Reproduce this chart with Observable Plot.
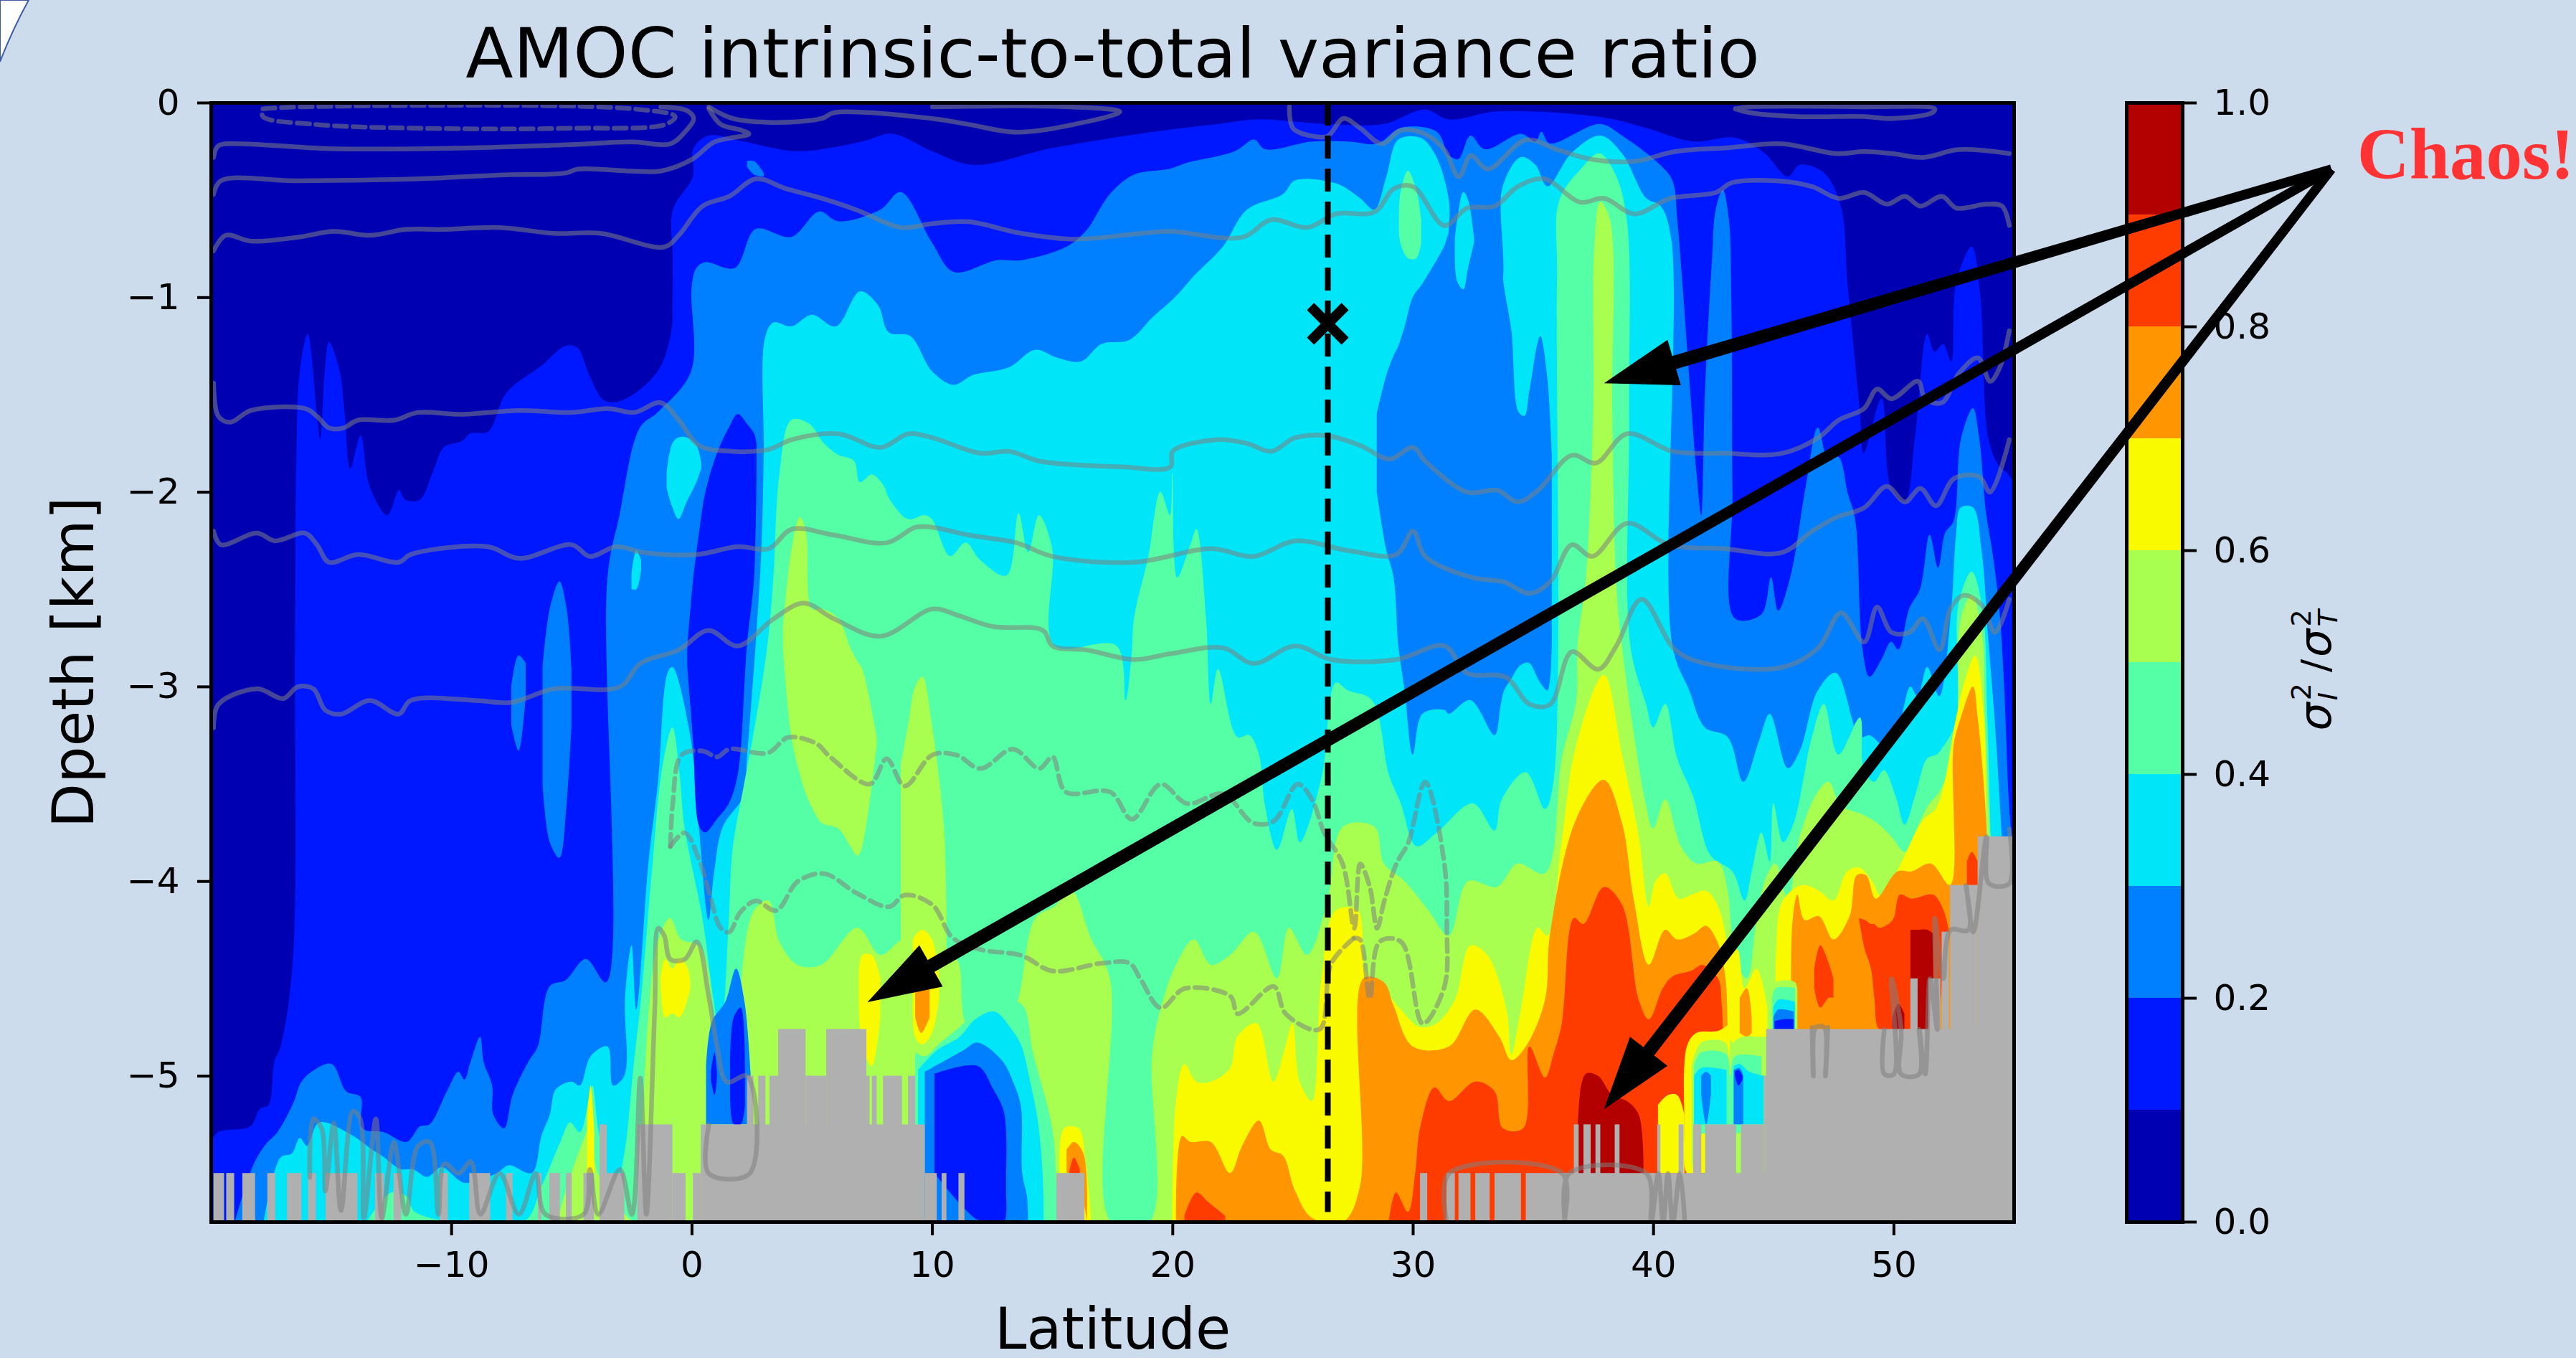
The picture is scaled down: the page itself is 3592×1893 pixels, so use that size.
<!DOCTYPE html>
<html><head><meta charset="utf-8">
<script src="https://cdn.jsdelivr.net/npm/d3@7"></script>
<script src="https://cdn.jsdelivr.net/npm/@observablehq/plot@0.6"></script>
<style>
html,body{margin:0;padding:0;background:#cddcec;width:3592px;height:1893px;overflow:hidden}
#page{position:relative;width:3592px;height:1893px;overflow:hidden}
#page>svg{position:absolute;left:0;top:0}
#cblabel{position:absolute;left:3228px;top:928px;transform:translate(-50%,-50%) rotate(-90deg);font-family:"DejaVu Sans";font-size:54px;white-space:nowrap;color:#000;display:flex;align-items:center;gap:3px}
#cblabel i{font-size:62px}
#cblabel .st{display:inline-flex;flex-direction:column;font-size:38px;line-height:37px;margin-right:12px}
#cblabel .st i{font-size:38px}
</style></head><body><div id="page"></div>
<script>
// ---- scale facts -------------------------------------------------------
const latDomain=[-20,55], depthDomain=[-5.75,0], floorDepth=-5.75;
const xTicks=[-10,0,10,20,30,40,50], yTicks=[-5,-4,-3,-2,-1,0], cbTicks=[0,.2,.4,.6,.8,1];
const thresholds=[.1,.2,.3,.4,.5,.6,.7,.8,.9];
const jetBands=["#0000b3","#0018ff","#0080ff","#00e5f8","#55ffa5","#a8ff50","#f9f900","#ff9500","#ff3c00","#b30000"];
const bandMids=[.05,.15,.25,.35,.45,.55,.65,.75,.85,.95];
// ---- contour edges: [lat, depth]; region below the edge has ratio >= the level ------
const edge0=[[-20,0],[55,0]];
const edge1=[[-20,-5.34],[-19.7,-5.29],[-18.36,-5.26],[-17.96,-5.17],[-17.6,-5.15],[-17.36,-4.93],[-17.1,-4.85],[-16.6,-4.43],[-16.5,-2.79],[-16.44,-1.8],[-16.3,-1.38],[-15.97,-1.19],[-15.6,-1.59],[-15.45,-1.73],[-15.26,-1.38],[-15.08,-1.23],[-14.64,-1.38],[-14.44,-1.59],[-14.2,-1.88],[-13.77,-1.71],[-13.4,-1.97],[-12.66,-2.12],[-12.17,-1.99],[-11.92,-2.04],[-11.3,-2.04],[-10.8,-1.91],[-10.3,-1.77],[-9.57,-1.74],[-9.2,-1.7],[-8.46,-1.69],[-7.7,-1.49],[-6.23,-1.35],[-5.25,-1.25],[-4.75,-1.26],[-4.26,-1.4],[-3.64,-1.53],[-2.9,-1.53],[-1.41,-1.38],[-.84,-1.17],[-.8,-1.04],[-.79,-.79],[-.78,-.55],[.05,-.38],[.07,-.24],[.69,-.17],[2.17,-.2],[4.4,-.25],[7.1,-.2],[8.35,-.16],[10,-.25],[11.74,-.32],[14.95,-.235],[18.66,-.16],[21.9,-.11],[23.6,-.087],[26.45,-.11],[28.8,-.11],[30.5,-.035],[31.5,-.087],[33.5,-.045],[37.9,-.076],[39.7,-.13],[41.65,-.2],[43.4,-.18],[44.6,-.256],[45.6,-.38],[46.1,-.32],[47.1,-.36],[47.8,-.53],[48.1,-.95],[48.6,-1.59],[48.76,-1.8],[49.5,-1.52],[49.9,-1.98],[50.46,-2.05],[50.9,-1.71],[51.4,-1.19],[51.7,-1.28],[52.06,-1.24],[52.4,-1.33],[52.6,-.93],[53.25,-.74],[53.6,-.98],[53.95,-1.73],[54.4,-1.87],[54.7,-1.9],[55,-1.95]];
const edge2=[[-19,-5.75],[-18.2,-5.45],[-17.7,-5.35],[-17.23,-5.29],[-16.57,-5.14],[-16.23,-5.03],[-15.7,-4.97],[-14.97,-4.94],[-14.37,-5.08],[-13.77,-5.11],[-13.7,-5.27],[-12.8,-5.29],[-11.85,-5.34],[-11.3,-5.26],[-10.9,-5.25],[-10.18,-5.08],[-9.7,-4.98],[-9.45,-5.02],[-9.2,-4.93],[-8.8,-4.8],[-8.65,-4.93],[-8.3,-5.05],[-8.25,-5.2],[-7.8,-5.27],[-7.45,-5.1],[-6.8,-4.93],[-6.4,-4.85],[-5.9,-4.54],[-5.25,-4.51],[-4.4,-4.4],[-3.56,-4.52],[-3.5,-2.44],[-3,-2.12],[-2.15,-1.67],[-1.4,-1.59],[-.02,-1.38],[0,-.95],[.2,-.85],[.56,-.82],[1.8,-.85],[2.66,-.65],[4.15,-.69],[5.3,-.56],[6.1,-.61],[7.85,-.55],[8.7,-.46],[10,-.72],[10.9,-.87],[12.7,-.81],[13.7,-.81],[15.6,-.74],[16.4,-.66],[17.4,-.47],[18.4,-.37],[19.9,-.34],[20.6,-.31],[22.6,-.25],[23.4,-.19],[23.85,-.24],[25.8,-.2],[27.3,-.2],[28.55,-.21],[29.5,-.13],[31,-.15],[31.5,-.27],[31.9,-.29],[32.4,-.17],[33,-.24],[34.5,-.16],[35.1,-.2],[35.35,-.15],[35.7,-.21],[37.8,-.11],[38.7,-.17],[40.2,-.31],[40.8,-.4],[41,-.6],[41.2,-.9],[41.55,-1.5],[41.8,-1.9],[42,-2.12],[42.15,-1.5],[42.45,-.8],[42.6,-.55],[42.9,-.45],[43.15,-.6],[43.25,-1],[43.3,-2],[43.4,-2.65],[44.5,-2.63],[44.9,-2.44],[45.2,-2.61],[45.7,-2.44],[46.35,-1.97],[46.85,-1.67],[47.3,-1.84],[47.7,-1.82],[48.1,-2.01],[48.4,-2.14],[48.7,-2.8],[49,-2.95],[49.5,-2.86],[49.9,-2.77],[50.2,-2.81],[50.65,-2.6],[51.1,-2.5],[51.5,-2.22],[51.85,-2.39],[52.15,-2.21],[52.5,-2.15],[52.8,-1.73],[53.3,-1.57],[53.55,-1.71],[53.85,-2.11],[54.1,-2.3],[54.4,-2.6],[54.6,-3],[54.8,-3.6],[55,-3.9]];
const edge3=[[-17.8,-5.75],[-17.1,-5.42],[-16.63,-5.4],[-16.3,-5.32],[-16,-5.36],[-15.5,-5.24],[-14.2,-5.3],[-13.4,-5.37],[-12.9,-5.41],[-12.1,-5.48],[-11.6,-5.48],[-11,-5.52],[-10.4,-5.47],[-9.45,-5.55],[-8.1,-5.5],[-7.6,-5.46],[-6.65,-5.5],[-6.25,-5.31],[-5.9,-5.2],[-5.65,-5.07],[-5,-5.03],[-4.65,-5.05],[-4.2,-4.9],[-3.5,-4.85],[-3.27,-5.05],[-2.8,-5],[-2.77,-4.6],[-2.5,-4.33],[-2.3,-4.66],[-1.8,-3.91],[-1.4,-3.49],[-1,-2.93],[-.8,-2.9],[-.05,-3.26],[.3,-3.72],[.7,-4.2],[.93,-3.96],[1.3,-3.72],[2.17,-3.56],[2.3,-3.37],[2.66,-2.79],[2.9,-2.3],[3,-1.8],[3.05,-1.21],[3.4,-1.13],[4.15,-1.15],[5,-1.09],[6,-1.15],[7,-.97],[7.75,-1.04],[8.2,-1.18],[9.1,-1.2],[10,-1.38],[10.9,-1.45],[11.7,-1.4],[13.2,-1.36],[14.3,-1.27],[15.2,-1.31],[16.2,-1.33],[17.05,-1.24],[18.2,-1.22],[19.2,-1.1],[20.15,-.995],[20.9,-.89],[22.1,-.74],[23.1,-.55],[24.6,-.47],[25.1,-.4],[26.8,-.415],[27.8,-.49],[28.4,-.55],[28.9,-.38],[29.4,-.19],[30.3,-.18],[30.9,-.26],[31.5,-.5],[31.6,-1],[33.5,-1],[33.74,-.43],[34.5,-.28],[35.1,-.32],[35.6,-.43],[36.6,-.26],[37.8,-.17],[38.7,-.26],[39.7,-.49],[40.3,-.53],[40.75,-.7],[40.8,-2.79],[41.5,-3.02],[42.15,-3.21],[43.1,-3.26],[43.75,-3.49],[44.4,-3.28],[44.85,-3.14],[45.6,-3.42],[46.1,-3.33],[46.85,-3.02],[47.6,-2.93],[48.6,-3.26],[49,-3.25],[49.6,-3.3],[50.2,-3.2],[50.7,-3],[51,-3.05],[51.4,-2.9],[51.9,-3.05],[52.4,-2.6],[52.6,-2.22],[52.8,-2.08],[53.3,-2.08],[53.66,-2.3],[53.95,-2.77],[54.2,-3.16],[54.5,-3.77],[54.55,-3.9],[55,-3.9]];
const edge4=[[-13.5,-5.75],[-12.5,-5.6],[-11.85,-5.62],[-11.5,-5.7],[-7,-5.75],[-6.25,-5.57],[-5.46,-5.34],[-5.06,-5.24],[-4.65,-5.29],[-4.26,-5.11],[-4.13,-5.05],[-3.85,-5.3],[-3.2,-5.6],[-2.8,-5.4],[-2.4,-4.93],[-2.1,-4.6],[-1.66,-3.96],[-1.2,-3.4],[-.8,-3.21],[-.5,-3.45],[-.3,-3.72],[.45,-4.19],[.9,-4.6],[1.2,-4.8],[1.55,-4.19],[1.7,-3.84],[2.2,-3.49],[2.55,-3.26],[3.15,-2.79],[3.4,-2.44],[3.65,-1.91],[4.15,-1.63],[4.9,-1.65],[5.5,-1.75],[6.1,-1.81],[6.75,-1.84],[7,-1.95],[7.5,-1.91],[8,-1.97],[8.2,-2.03],[9,-2.14],[9.7,-2.12],[10,-2.14],[10.75,-2.33],[11.4,-2.26],[12,-2.35],[13.1,-2.43],[13.6,-2.11],[14,-2.31],[14.45,-2.12],[15,-2.29],[15.1,-2.79],[17.67,-2.79],[18.05,-3.07],[18.3,-2.84],[18.4,-2.65],[19,-2.33],[19.5,-2],[19.9,-2.12],[20,-1.9],[20.2,-2.44],[20.75,-2.27],[21,-2.19],[21.4,-2.65],[21.6,-3.09],[21.9,-2.91],[22.7,-3.26],[23.2,-3.25],[23.6,-3.35],[23.85,-3.61],[24.35,-3.84],[24.97,-3.63],[25.3,-3.8],[26.2,-3.47],[26.8,-2.98],[27.3,-3.02],[28.3,-3.07],[29,-3.45],[29.5,-3.6],[30.15,-3.82],[31,-3.75],[32.5,-3.6],[33.4,-3.74],[33.7,-3.58],[34.7,-3.44],[35.5,-3.63],[35.85,-3.49],[36,-.9],[36.1,-.5],[37,-.34],[37.75,-.26],[38.4,-.36],[38.9,-.6],[39,-1.6],[39.05,-2.79],[39.7,-3.09],[40,-3.21],[40.5,-3.09],[41,-3.37],[41.65,-3.56],[42.4,-3.87],[43.3,-3.95],[43.8,-4.1],[44.1,-3.95],[44.5,-3.75],[44.85,-3.9],[45,-3.6],[45.4,-3.8],[45.85,-3.7],[46.6,-3.26],[47.1,-3.09],[47.7,-3.35],[48.6,-3.16],[48.76,-3.43],[49.2,-3.49],[49.6,-3.43],[50.1,-3.57],[50.46,-3.71],[50.9,-3.56],[51.4,-3.37],[51.8,-3.35],[52.06,-3.31],[52.6,-3.18],[52.7,-2.58],[53.25,-2.41],[53.7,-2.6],[53.9,-3.16],[54.04,-3.77],[54.1,-4]];
const edge5=[[-5.6,-5.75],[-5,-5.5],[-4.4,-5.3],[-4.2,-5.25],[-3.9,-5.5],[-2.3,-5.75],[-2.1,-5.4],[-1.8,-4.7],[-1.4,-4.31],[-.9,-4.19],[-.43,-4.3],[.3,-4.33],[.7,-4.47],[1.2,-5.5],[1.6,-5.6],[2,-4.6],[2.6,-4.15],[3.2,-4.1],[3.65,-4.31],[4.4,-4.43],[5.4,-4.43],[6.9,-4.24],[7.85,-4.38],[8.85,-4.3],[10,-4.4],[11,-4.4],[11.5,-4.75],[13,-4.8],[13.6,-4.6],[14.3,-4.19],[15.1,-4.13],[15.8,-4.05],[16.6,-4.29],[17.4,-4.5],[17.45,-5.75],[19.05,-5.75],[19.15,-4.9],[19.5,-4.66],[20.15,-4.43],[20.9,-4.3],[21.6,-4.43],[22.4,-4.38],[23.4,-4.26],[24.35,-4.5],[24.85,-4.24],[25.6,-4.38],[26.45,-4.1],[27.1,-3.72],[28.4,-3.72],[28.8,-3.91],[29.66,-4],[30.65,-4.15],[31.5,-4.28],[32.3,-4],[33.5,-4.03],[34.35,-3.91],[35.5,-3.96],[36.2,-3.37],[36.8,-3.07],[36.85,-2.79],[37.2,-2.44],[37.5,-1.6],[37.55,-.74],[37.8,-.51],[38.2,-.6],[38.3,-1.59],[38.45,-2.44],[38.7,-2.79],[39.7,-3.61],[40,-3.73],[40.5,-3.58],[41.15,-3.82],[41.8,-3.91],[42.7,-3.9],[43.1,-4.05],[43.4,-4.4],[43.9,-4.5],[44.3,-4.2],[44.7,-3.98],[45.1,-3.91],[45.6,-4.1],[46.1,-3.77],[46.85,-3.54],[47.3,-3.49],[47.8,-3.61],[48.76,-3.66],[49.3,-3.7],[49.9,-3.77],[50.46,-3.85],[50.9,-3.75],[51.4,-3.62],[52,-3.52],[52.6,-3.24],[52.8,-2.65],[53.25,-2.53],[53.66,-2.7],[53.8,-3.16],[54,-3.77],[54.05,-4]];
const edge6=[[20,-5.75],[20.15,-5.13],[20.5,-4.94],[21,-5.03],[21.6,-5.03],[22.4,-4.96],[22.7,-4.8],[23.5,-4.73],[24.2,-5.03],[24.7,-4.85],[25,-4.73],[25.3,-5.03],[25.8,-5.13],[26.2,-4.5],[26.8,-4.15],[27.7,-4.15],[28.05,-4.47],[28.55,-4.52],[29.5,-4.66],[30.3,-4.75],[31,-4.73],[31.75,-4.61],[32.4,-4.33],[33.1,-4.38],[33.9,-4.66],[34.1,-4.89],[34.5,-4.66],[35.2,-4.24],[35.6,-4.28],[36.2,-3.79],[36.8,-3.3],[37.95,-2.94],[38.7,-3.35],[39.4,-3.77],[39.82,-4.13],[40.1,-4],[40.5,-3.96],[41.06,-4.09],[41.6,-4.07],[42.2,-4.05],[42.7,-4.13],[43.1,-4.36],[43.2,-4.8],[43.3,-5.6],[45,-5.6],[45.1,-4.4],[45.4,-4.1],[46.2,-4.02],[46.9,-4.05],[47.5,-4.1],[48.07,-3.95],[48.57,-3.93],[49.1,-4],[49.5,-4.08],[50.1,-3.96],[50.46,-3.87],[51.2,-3.69],[51.8,-3.62],[52.6,-3.16],[52.9,-3],[53.4,-2.84],[53.76,-3.16],[53.85,-3.68],[53.9,-4]];
const edge7=[[20.15,-5.75],[20.4,-5.31],[20.75,-5.34],[21.6,-5.34],[22.4,-5.5],[22.9,-5.36],[23.6,-5.23],[24.1,-5.38],[24.6,-5.41],[25.1,-5.59],[25.8,-5.73],[27.1,-5.75],[27.8,-5.57],[27.95,-4.5],[28.8,-4.52],[29.2,-4.64],[30,-4.85],[31.5,-4.85],[32.6,-4.66],[33.6,-4.8],[34.1,-4.92],[34.7,-4.85],[35.5,-4.61],[35.7,-4.28],[36.8,-3.68],[37.95,-3.48],[38.7,-3.7],[39.2,-4.1],[39.82,-4.43],[40.5,-4.25],[41,-4.3],[41.7,-4.27],[42.2,-4.23],[42.7,-4.32],[43,-4.49],[43.1,-4.76],[43.2,-5.6],[45.7,-5.6],[45.75,-5],[45.8,-4.2],[46,-4.07],[46.3,-4.2],[46.9,-4.18],[47.5,-4.3],[48.17,-4.18],[48.47,-3.97],[48.86,-3.97],[49.26,-4.09],[50.16,-3.95],[50.75,-3.95],[51.55,-3.91],[52.35,-4.02],[52.5,-3.3],[52.8,-3.16],[53.3,-3],[53.5,-3.16],[53.85,-3.68],[53.9,-4]];
const edge8=[[29,-5.75],[29.3,-5.6],[29.8,-5.7],[30.1,-5.5],[30.3,-5.27],[30.9,-5.06],[31.5,-5.13],[32.6,-5.03],[33.4,-5.08],[33.75,-5.27],[34.6,-5.27],[34.85,-4.85],[35.5,-5.01],[35.85,-4.89],[36.2,-4.73],[36.7,-4.19],[37.1,-4.22],[37.95,-4.03],[38.7,-4.12],[39.4,-4.61],[39.82,-4.71],[40.4,-4.55],[40.8,-4.49],[41.6,-4.46],[42.06,-4.43],[42.7,-4.5],[42.85,-4.63],[42.9,-4.77],[42.95,-5.75]];
const edge9=[[36.85,-5.5],[36.85,-5.27],[37.2,-4.99],[37.7,-5],[38.3,-5.1],[38.9,-5.13],[39.4,-5.2],[39.6,-5.5]];
// ---- small isolated patches: [lat, top depth, bottom depth] ---------------
const pocketBlueMid=[[28.5,-1.6,-2],[28.9,-1.4,-2.3],[29.2,-1.3,-2.44],[29.4,-1.25,-2.79],[29.66,-1.15,-3.02],[30,-1,-3.35],[30.4,-.93,-3.14],[31.3,-.74,-3.12],[31.5,-.68,-3.14],[32.4,-.95,-3.07],[33.4,-.9,-3.25],[33.65,-.79,-3.1],[33.8,-.95,-3.02],[34.1,-1.17,-2.96],[34.4,-1.59,-2.9],[34.65,-1.61,-2.88],[34.85,-1.48,-2.88],[35.3,-1.2,-2.98],[35.6,-1.42,-3.02],[35.78,-1.8,-2.79]];
const fingerCyan=[[31.75,-.7,-.8],[31.85,-.6,-.92],[32.1,-.46,-.96],[32.3,-.5,-.85],[32.55,-.7,-.72]];
const patchGreenA=[[29.42,-.6,-.66],[29.5,-.45,-.73],[29.8,-.35,-.8],[30.15,-.45,-.8],[30.35,-.6,-.72]];
const patchCyanA=[[-1.04,-1.9,-1.98],[-.8,-1.75,-2.08],[-.55,-1.72,-2.14],[-.2,-1.72,-2.05],[.2,-1.76,-1.95],[.4,-1.85,-1.88]];
const patchCyanB=[[-2.5,-2.42,-2.5],[-2.3,-2.3,-2.5],[-2.1,-2.35,-2.4]];
const patchMidA=[[2.3,-.3,-.33],[2.6,-.3,-.37],[3,-.36,-.38]];
const patchMidB=[[-7.5,-3,-3.2],[-7.2,-2.84,-3.33],[-6.9,-2.88,-3.05]];
const patchMidC=[[-6.2,-2.9,-3.5],[-5.9,-2.6,-3.8],[-5.5,-2.46,-3.88],[-5.2,-2.6,-3.6],[-5,-2.9,-3.2]];
const fingerBand1=[[-.18,-2.79,-2.9],[-.05,-2.6,-3.1],[.07,-2.44,-3.3],[.32,-2.2,-3.72],[.56,-2.01,-3.75],[1.06,-1.8,-3.68],[1.55,-1.67,-3.6],[1.92,-1.6,-3.45],[2.3,-1.65,-2.79],[2.6,-1.7,-2.44],[2.7,-1.75,-1.9]];
const gapMid=[[.6,-4.95,-5.25],[.85,-4.72,-5.25],[1.4,-4.62,-5.25],[1.85,-4.45,-5.25],[2.2,-4.62,-5.25],[2.45,-4.98,-5.25]];
const gapBand1A=[[1.6,-4.95,-5.05],[1.75,-4.7,-5.25],[2.05,-4.65,-5.25],[2.22,-4.95,-5.15]];
const gapBand1B=[[.8,-4.98,-5.02],[.95,-4.88,-5.1],[1.05,-4.98,-5.02]];
const patchLight4=[[3.8,-2.7,-2.8],[4.15,-2.3,-3.26],[4.5,-2.13,-3.45],[4.75,-2.2,-3.55],[5,-2.6,-3.62],[5.4,-2.6,-3.7],[6.1,-2.65,-3.73],[6.6,-2.8,-3.82],[6.9,-2.87,-3.87],[7.1,-2.91,-3.82],[7.7,-3.26,-3.3]];
const patchLight9=[[8.7,-3.4,-4.4],[9,-3.2,-4.5],[9.3,-3,-4.6],[9.6,-2.95,-4.6],[10,-3.2,-4.6],[10.5,-3.73,-4.4],[10.6,-4.19,-4.4]];
const lowGreen=[[9.3,-4.88,-5.75],[9.7,-4.9,-5.75],[10.35,-4.83,-5.75],[11.15,-4.75,-5.75],[12.2,-4.63,-5.75],[13.7,-4.63,-5.75],[14.2,-4.88,-5.75],[15,-5.27,-5.75],[15.15,-5.5,-5.75],[15.2,-5.75,-5.75]];
const lowCyan=[[9.42,-4.97,-5.75],[10.2,-4.87,-5.75],[11.15,-4.8,-5.75],[11.8,-4.71,-5.75],[12.6,-4.67,-5.75],[13.3,-4.76,-5.75],[13.7,-4.84,-5.75],[14.1,-5.04,-5.75],[14.4,-5.23,-5.75],[14.6,-5.5,-5.75],[14.65,-5.75,-5.75]];
const lowMid=[[9.7,-4.98,-5.75],[11.3,-4.87,-5.75],[11.9,-4.83,-5.75],[12.9,-4.92,-5.75],[13.4,-5.04,-5.75],[13.7,-5.16,-5.75],[13.75,-5.5,-5.75],[13.95,-5.62,-5.75],[14,-5.75,-5.75]];
const lowBand1=[[10.1,-4.99,-5.5],[11.9,-4.95,-5.74],[12.55,-5.07,-5.75],[13,-5.19,-5.75],[13.08,-5.5,-5.62]];
const yellowA=[[-1.3,-4.5,-4.5],[-1.1,-4.4,-4.7],[-.8,-4.45,-4.68],[-.5,-4.4,-4.7],[-.15,-4.45,-4.6],[-.05,-4.55,-4.55]];
const yellowB=[[6.95,-4.5,-4.6],[7.1,-4.38,-4.85],[7.5,-4.38,-4.95],[7.85,-4.5,-4.7]];
const yellowC=[[9.2,-4.3,-4.6],[9.3,-4.28,-4.8],[9.6,-4.25,-4.84],[10,-4.3,-4.78],[10.3,-4.5,-4.6]];
const yellowD=[[-4.35,-5.2,-5.5],[-4.2,-5.05,-5.5],[-4.05,-5.3,-5.5]];
const yellowE=[[15.3,-5.45,-5.5],[15.5,-5.27,-5.5],[16.1,-5.27,-5.5],[16.4,-5.45,-5.75],[16.6,-5.7,-5.75]];
const yellowF=[[43.15,-4.4,-4.8],[43.5,-4.35,-4.85],[43.8,-4.55,-4.8],[44.3,-4.45,-4.8],[44.75,-4.65,-4.8]];
const lowYellow41=[[40.2,-5.15,-5.5],[40.6,-5.1,-5.5],[41,-5.1,-5.5],[41.3,-5.2,-5.5]];
const orangeC=[[9.3,-4.5,-4.7],[9.55,-4.5,-4.78],[9.9,-4.55,-4.7]];
const orangeE=[[15.6,-5.38,-5.5],[15.9,-5.34,-5.5],[16.3,-5.4,-5.65],[16.45,-5.72,-5.75]];
const orangeF=[[43.6,-4.6,-4.78],[43.9,-4.55,-4.8],[44.1,-4.7,-4.78]];
const redE=[[15.7,-5.5,-5.5],[15.9,-5.42,-5.5],[16.15,-5.48,-5.5]];
const redBottom=[[20.5,-5.72,-5.75],[21,-5.6,-5.75],[21.5,-5.65,-5.75],[22.2,-5.72,-5.75]];
const redBlock53=[[53.05,-3.9,-4.02],[53.25,-3.85,-4.02],[53.5,-3.9,-4.02]];
const redBlob47=[[46.7,-4.45,-4.55],[46.95,-4.33,-4.65],[47.3,-4.42,-4.6],[47.5,-4.5,-4.6]];
const redRight=[[48.57,-4.19,-4.2],[48.8,-4.2,-4.35],[49.06,-4.22,-4.45],[49.2,-4.22,-4.6],[49.4,-4.24,-4.76],[49.96,-4.2,-4.76],[50.26,-4.07,-4.76],[50.75,-4.09,-4.76],[51.65,-4.07,-4.76],[52.05,-4.14,-4.5],[52.3,-4.25,-4.3]];
const darkRed50=[[49.95,-4.7,-4.76],[50.2,-4.63,-4.76],[50.45,-4.68,-4.76]];
const darkRed51=[[50.7,-4.25,-4.5],[51,-4.25,-4.76],[51.4,-4.25,-4.76],[51.65,-4.27,-4.5]];
const rimYellow=[[41.3,-5.2,-5.3],[41.4,-4.85,-5.5],[41.8,-4.78,-5.5],[42.7,-4.77,-5.5],[43.1,-4.74,-5.5]];
const rimLight=[[41.6,-4.95,-5.5],[42,-4.83,-5.3],[43,-4.83,-5.3],[43.2,-5,-5.3],[43.4,-4.82,-5.3],[44.2,-4.8,-5.3],[44.7,-4.85,-5.3]];
const rimGreen=[[41.7,-4.95,-5.35],[42,-4.88,-5.3],[43.05,-4.89,-5.3],[43.2,-5,-5.3],[43.4,-4.9,-5.3],[44.5,-4.9,-5.25]];
const rimCyanA=[[41.7,-5,-5.25],[42,-4.96,-5.25],[43.05,-4.97,-5.25]];
const rimCyanB=[[43.35,-4.95,-5.25],[43.6,-4.94,-5.25],[44,-4.98,-5.25],[44.6,-5,-5.25]];
const rimMidA=[[42,-5,-5.1],[42.2,-4.98,-5.25],[42.4,-5,-5.1]];
const rimMidB=[[43.35,-4.97,-5.25],[43.6,-4.96,-5.25],[43.75,-5,-5.25]];
const rimBand1=[[43.4,-4.98,-5],[43.55,-4.97,-5.05],[43.72,-5,-5.02]];
const cap45Light=[[44.9,-4.6,-4.76],[45.1,-4.52,-4.76],[45.9,-4.52,-4.76],[46,-4.6,-4.76]];
const cap45Green=[[44.95,-4.6,-4.76],[45.1,-4.55,-4.76],[45.9,-4.55,-4.76]];
const cap45Cyan=[[45,-4.65,-4.76],[45.2,-4.61,-4.76],[45.9,-4.62,-4.76]];
const cap45Mid=[[45,-4.7,-4.76],[45.2,-4.66,-4.76],[45.85,-4.67,-4.76]];
const cap45Band1=[[45.05,-4.72,-4.76],[45.4,-4.71,-4.76],[45.85,-4.71,-4.76]];
// ---- bathymetry: [lat from, lat to, top depth] ----------------------------
const bathymetry=[[-19.89,-19.45,-5.5],[-19.36,-19.03,-5.5],[-18.69,-18.16,-5.5],[-17.65,-17.32,-5.5],[-16.83,-16.23,-5.5],[-15.96,-15.63,-5.5],[-15.23,-13.9,-5.5],[-13.17,-12.8,-5.5],[-12.4,-12.08,-5.5],[-10.48,-10.14,-5.5],[-9.25,-8.38,-5.5],[-7.72,-7.45,-5.5],[-6.39,-6.25,-5.5],[-5.92,-5.48,-5.5],[-5.23,-4.99,-5.5],[-4.5,-4.06,-5.5],[-3.83,-3.53,-5.25],[-3.53,-2.8,-5.5],[-2.26,-.8,-5.25],[-.8,-.25,-5.5],[.05,.38,-5.5],[.38,9.7,-5.25],[2.3,2.57,-5],[2.77,3.07,-5],[3.24,3.6,-5],[3.6,4.74,-4.76],[4.74,5.6,-5],[5.6,7.27,-4.76],[7.27,7.4,-5],[7.5,7.7,-5],[7.96,8.75,-5],[9,9.3,-5],[9.7,10.2,-5.5],[10.4,10.6,-5.5],[11.1,11.35,-5.5],[15.17,16.34,-5.5],[30.3,30.6,-5.5],[31.4,31.75,-5.5],[31.9,32.4,-5.5],[32.6,33.2,-5.5],[33.4,34.5,-5.5],[34.7,36.7,-5.5],[36.7,36.9,-5.25],[37.1,37.4,-5.25],[37.6,37.8,-5.25],[38.4,38.6,-5.25],[36.2,44.85,-5.5],[40.17,40.3,-5.25],[41.06,41.26,-5.25],[41.66,42,-5.25],[42.16,43.45,-5.25],[43.65,44.6,-5.25],[44.6,44.7,-5],[44.7,55,-4.76],[50.7,51,-4.5],[51.45,51.95,-4.5],[52,52.3,-4.26],[52.35,53.5,-4.02],[53.5,55,-3.77]];
// ---- circulation contours: [lat, depth] -----------------------------------
const solidContours=[
[[-19.9,-.28],[-19.7,-.22],[-18.8,-.21],[-15.1,-.235],[-9,-.23],[-5.25,-.215],[-2.5,-.2],[-.9,-.21],[-.3,-.15],[.07,-.08],[-.2,-.04],[-1.3,-.02]],
[[-19.9,-.47],[-19.6,-.4],[-16.4,-.4],[-11.4,-.39],[-8,-.37],[-5.25,-.36],[-4.75,-.34],[-2.5,-.35],[-1.3,-.35],[0,-.29],[.94,-.2],[2.37,-.16],[2.05,-.14],[1.2,-.11],[.7,-.03]],
[[.7,-.02],[1.7,-.08],[3.4,-.1],[5.4,-.08],[5.9,-.05],[10,-.08],[11.5,-.11],[13.5,-.15],[15.9,-.11],[17.8,-.045],[15.7,-.02],[10,-.02]],
[[-19.9,-.76],[-19.4,-.68],[-18.35,-.71],[-16.4,-.69],[-14.9,-.66],[-13.4,-.68],[-11.9,-.65],[-10.4,-.65],[-8,-.64],[-5.75,-.67],[-3.8,-.67],[-1.15,-.74],[-.55,-.68],[.44,-.53],[1.55,-.48],[2.66,-.39],[3.9,-.44],[5.4,-.49],[6.85,-.55],[8.7,-.64],[10,-.62],[11.5,-.61],[13.7,-.67],[15.9,-.7],[18.7,-.67],[19.9,-.66],[22.9,-.69],[24.1,-.6],[25.6,-.64],[26.8,-.57],[28.4,-.56],[29.2,-.44],[30,-.43],[31.3,-.63],[32.25,-.54],[33.4,-.53],[34.35,-.43],[35.45,-.39],[36.95,-.51],[37.95,-.49],[39.2,-.57],[40.7,-.49],[42.6,-.46],[43.25,-.41],[45.1,-.4],[46.6,-.43],[47.7,-.49],[48.76,-.46],[49.7,-.52],[50.46,-.48],[51.1,-.53],[52,-.48],[52.6,-.54],[53.85,-.52],[54.5,-.53],[54.8,-.63]],
[[24.85,-.02],[25,-.13],[25.8,-.17],[26.45,-.17],[27.1,-.08],[27.8,-.13],[28.7,-.21],[29.5,-.14],[30.5,-.16],[31.3,-.24],[31.9,-.38],[32.4,-.27],[33.1,-.34],[34.7,-.19],[36,-.24],[37.45,-.29],[39.2,-.3],[40.9,-.25],[43.1,-.23],[45.35,-.21],[47.6,-.26],[48.76,-.25],[49.9,-.26],[51.2,-.28],[52.7,-.24],[54.8,-.26]],
[[43.4,-.03],[44,-.05],[46,-.07],[48.76,-.07],[49.9,-.08],[51.6,-.05],[51.7,-.03],[48.76,-.02],[44,-.02],[43.4,-.03]],
[[-19.9,-1.44],[-19.7,-1.61],[-19.2,-1.64],[-18.35,-1.58],[-16.1,-1.57],[-15.6,-1.61],[-15.1,-1.67],[-14.5,-1.67],[-13.9,-1.63],[-12.4,-1.63],[-11.4,-1.59],[-9.7,-1.6],[-7.2,-1.58],[-5,-1.59],[-3.5,-1.57],[-2.4,-1.59],[-1.3,-1.54],[-.55,-1.63],[.3,-1.76],[1.7,-1.79],[3.2,-1.78],[4.15,-1.73],[6.1,-1.7],[7.85,-1.77],[9,-1.7],[10,-1.72],[12,-1.8],[13.2,-1.79],[14.45,-1.84],[17.9,-1.87],[19.9,-1.87],[20,-1.79],[21.9,-1.73],[23.1,-1.75],[24.1,-1.79],[25.1,-1.72],[26.45,-1.71],[27.8,-1.76],[29,-1.83],[30,-1.77],[30.5,-1.84],[32.25,-2],[33.5,-1.99],[34.35,-2.05],[35.2,-1.99],[36.6,-1.81],[37.6,-1.85],[38.9,-1.7],[40.8,-1.79],[42.9,-1.8],[45.35,-1.8],[46.85,-1.72],[47.7,-1.63],[48.76,-1.57],[49.3,-1.47],[49.9,-1.52],[51,-1.43],[51.3,-1.52],[52,-1.54],[52.7,-1.39],[53.5,-1.31],[54,-1.43],[54.4,-1.36],[54.8,-1.17]],
[[-19.9,-2.2],[-19.6,-2.27],[-18.1,-2.21],[-17.35,-2.25],[-16.1,-2.21],[-15.6,-2.27],[-15.1,-2.36],[-13.9,-2.32],[-12.2,-2.36],[-11.7,-2.32],[-8.5,-2.28],[-7.2,-2.34],[-5,-2.27],[-4.25,-2.33],[-3.15,-2.28],[-2,-2.31],[.2,-2.32],[1.9,-2.28],[3.2,-2.29],[4.15,-2.19],[5.9,-2.22],[8.1,-2.26],[9.3,-2.18],[10,-2.18],[11.5,-2.22],[13.5,-2.26],[15,-2.33],[18.4,-2.36],[21.6,-2.29],[23.35,-2.33],[25.1,-2.25],[27.3,-2.3],[29.3,-2.32],[30,-2.2],[30.5,-2.33],[32.5,-2.44],[33.75,-2.46],[34.85,-2.52],[35.7,-2.46],[36.6,-2.27],[37.45,-2.33],[38.9,-2.16],[40.65,-2.27],[42.9,-2.29],[45.35,-2.31],[46.6,-2.2],[47.6,-2.13],[48.76,-2.08],[49.7,-1.97],[50.46,-2.05],[51.1,-1.98],[51.75,-2.07],[52.5,-1.93],[53.55,-1.92],[54,-2],[54.8,-1.73]],
[[-19.9,-3.21],[-19.7,-3.09],[-18.1,-3.01],[-17,-3.06],[-16.4,-3],[-15.75,-3.01],[-15.25,-3.12],[-14.6,-3.14],[-13.4,-3.07],[-12.2,-3.14],[-11.7,-3.07],[-9,-3.07],[-7.5,-3.08],[-5.75,-3.01],[-3,-3],[-2.15,-2.88],[-.55,-2.81],[.69,-2.71],[1.9,-2.79],[3.4,-2.65],[4.65,-2.57],[5.9,-2.65],[7.85,-2.74],[10,-2.6],[11,-2.63],[12.5,-2.69],[14.6,-2.71],[15,-2.79],[16.4,-2.81],[18.4,-2.86],[19.9,-2.83],[22.1,-2.8],[23.35,-2.88],[25.1,-2.79],[26.6,-2.86],[29.3,-2.86],[31.3,-2.79],[32.25,-2.93],[33.85,-2.95],[34.85,-3.09],[35.7,-3.09],[36.6,-2.82],[37.7,-2.91],[38.45,-2.79],[39.5,-2.55],[40.9,-2.81],[42.15,-2.88],[45.35,-2.9],[46.85,-2.8],[47.8,-2.62],[48.76,-2.77],[49.3,-2.59],[49.9,-2.72],[50.65,-2.72],[51.2,-2.65],[51.9,-2.81],[52.35,-2.6],[52.9,-2.53],[53.66,-2.58],[54.2,-2.72],[54.8,-2.55]],
[[-15.9,-5.52],[-15.75,-5.22],[-15.4,-5.27],[-15.25,-5.59],[-14.9,-5.24],[-14.6,-5.69],[-14.1,-5.18],[-13.8,-5.22],[-13.65,-5.73],[-13.15,-5.22],[-12.9,-5.73],[-12.4,-5.34],[-11.9,-5.71],[-11.4,-5.36],[-10.9,-5.34],[-10.55,-5.71],[-10.3,-5.45],[-9.7,-5.5],[-9.2,-5.44],[-8.8,-5.71],[-8,-5.5],[-7.2,-5.71],[-6.5,-5.5],[-6.1,-5.71],[-4.5,-5.71],[-4.25,-5.48],[-3.9,-5.71],[-3,-5.48],[-2.5,-5.71],[-2.15,-5.01],[-1.9,-5.71],[-1.55,-4.66],[-1.4,-4.24],[-1.15,-4.28],[-.9,-4.4],[-.3,-4.4],[.2,-4.31],[.7,-4.59],[1.05,-4.85],[1.45,-5.03],[2.3,-5],[2.4,-5.5],[.7,-5.5],[.7,-5.25]],
[[49.6,-4.76],[49.6,-4.99],[50,-4.99],[49.9,-4.5],[50.3,-4.76],[50.3,-4.99],[51.05,-4.99],[51.05,-4.76],[51.3,-4.99],[51.5,-4.5],[51.8,-4.76],[51.7,-4.19],[52.05,-4.5],[52.35,-4.25],[53.1,-4.25],[53,-4.02],[53.3,-4.26],[53.85,-3.77],[53.95,-4.01],[54.8,-4.01],[54.8,-3.73]],
[[46.6,-4.75],[46.65,-5],[46.75,-4.75],[47.1,-4.75],[47.15,-5],[47.25,-4.75]],
[[31.4,-5.75],[31.5,-5.5],[36.2,-5.5],[36.3,-5.75],[36.5,-5.5],[39.7,-5.5],[39.9,-5.75],[40.2,-5.5],[40.4,-5.75],[40.6,-5.5],[40.8,-5.75],[41.1,-5.5],[41.3,-5.75]]
];
const dashedContours=[
[[-17.85,-.03],[-16.2,-.02],[-2.5,-.03],[-.7,-.07],[-1.1,-.11],[-5,-.13],[-11.4,-.13],[-15.7,-.11],[-17.85,-.07],[-17.85,-.03]],
[[-.9,-3.82],[-.8,-3.6],[-.43,-3.35],[.45,-3.33],[1.05,-3.36],[1.55,-3.32],[3.15,-3.34],[4,-3.26],[5.15,-3.29],[5.75,-3.36],[7.4,-3.5],[8.1,-3.37],[8.85,-3.51],[10,-3.35],[11,-3.35],[12,-3.42],[13.35,-3.32],[14.45,-3.42],[15,-3.36],[15.55,-3.54],[17.4,-3.54],[18.3,-3.68],[19.5,-3.5],[20.6,-3.6],[22.1,-3.55],[23.35,-3.7],[24.2,-3.69],[25.2,-3.5],[25.8,-3.58],[26.3,-3.75],[27.07,-3.91],[27.55,-4.24],[27.8,-3.91],[28.2,-4.03],[28.5,-4.24],[28.8,-4.1],[29.3,-3.91],[29.8,-3.8],[30.5,-3.49],[31.3,-3.91],[31.4,-4.24],[31.3,-4.54],[30.4,-4.73],[29.5,-4.31],[28.6,-4.31],[28.2,-4.6],[27.8,-4.3],[27.55,-4.29]],
[[-.9,-3.82],[-.3,-3.75],[.3,-3.89],[.7,-4.05],[1.2,-4.24],[1.55,-4.26],[2,-4.16],[2.66,-4.1],[3.5,-4.15],[4.4,-4],[5.5,-3.96],[6.85,-4.06],[8.2,-4.13],[8.85,-4.07],[10,-4.12],[10.85,-4.29],[12,-4.35],[13.7,-4.38],[15,-4.46],[17.05,-4.42],[18.2,-4.42],[18.65,-4.5],[19.5,-4.65],[20.5,-4.55],[22.4,-4.59],[22.7,-4.68],[24.2,-4.54],[24.7,-4.68],[26.1,-4.76],[26.6,-4.42],[27.55,-4.29]]
];
// ---- annotations -----------------------------------------------------------
const refLat=[26.45], crossPoint=[[26.45,-1.135]];
const arrowFrom=[68.2,-.34];
const arrowTips=[[37.94,-1.44],[7.3,-4.62],[37.94,-5.17]];

// ---- layout ----------------------------------------------------------------
const W=3592,H=1893,FL=294,FR=2808,FT=143,FB=1703;
const sharedColor={type:"threshold",domain:thresholds,range:jetBands};
const tickFmt=d=>d3.format("d")(d);
const base={width:W,height:H,style:{background:"transparent",fontFamily:"'DejaVu Sans'",overflow:"visible"},color:sharedColor};
const chartBox={...base,marginLeft:FL,marginRight:W-FR,marginTop:FT,marginBottom:H-FB,
  x:{domain:latDomain,axis:null},y:{domain:depthDomain,axis:null}};
const paint=(rows,v)=>Plot.area(rows,{x1:d=>d[0],y1:d=>d[1],y2:d=>d.length>2?d[2]:floorDepth,fill:()=>v,curve:"catmull-rom",clip:true});
const [b0,b1,b2,b3,b4,b5,b6,b7,b8,b9]=bandMids;
const layers=[
 [edge0,b0],[edge1,b1],[edge2,b2],[patchMidA,b2],[patchMidB,b2],[patchMidC,b2],
 [edge3,b3],[pocketBlueMid,b2],[fingerCyan,b3],[patchCyanA,b3],[patchCyanB,b3],
 [fingerBand1,b1],
 [edge4,b4],[patchGreenA,b4],
 [edge5,b5],[patchLight4,b5],[patchLight9,b5],
 [gapMid,b2],[gapBand1A,b1],[gapBand1B,b1],
 [lowGreen,b4],[lowCyan,b3],[lowMid,b2],[lowBand1,b1],
 [edge6,b6],[yellowA,b6],[yellowB,b6],[yellowC,b6],[yellowD,b6],[yellowE,b6],
 [edge7,b7],[orangeC,b7],[orangeE,b7],
 [edge8,b8],[redRight,b8],[redBlob47,b8],[redE,b8],[redBottom,b8],[redBlock53,b8],
 [edge9,b9],[darkRed50,b9],[darkRed51,b9],
 [lowYellow41,b6],[yellowF,b6],[orangeF,b7],
 [rimYellow,b6],[rimLight,b5],[rimGreen,b4],[rimCyanA,b3],[rimCyanB,b3],[rimMidA,b2],[rimMidB,b2],[rimBand1,b1],
 [cap45Light,b5],[cap45Green,b4],[cap45Cyan,b3],[cap45Mid,b2],[cap45Band1,b1]
];
const lineStyle={x:d=>d[0],y:d=>d[1],stroke:"#808080",strokeOpacity:.55,strokeWidth:6.5,curve:"catmull-rom",clip:true};

const main=Plot.plot({...chartBox,marks:[
  ...layers.map(([rows,v])=>paint(rows,v)),
  Plot.rect(bathymetry,{x1:d=>d[0],x2:d=>d[1],y1:d=>d[2],y2:()=>floorDepth,fill:"#b0b0b0",clip:true}),
  ...solidContours.map(c=>Plot.line(c,lineStyle)),
  ...dashedContours.map(c=>Plot.line(c,{...lineStyle,strokeDasharray:"17,9"})),
  Plot.ruleX(refLat,{y1:0,y2:-5.7,stroke:"#000",strokeWidth:8,strokeDasharray:"32,14"}),
  Plot.dot(crossPoint,{x:d=>d[0],y:d=>d[1],symbol:"times",r:22,stroke:"#000",strokeWidth:14,fill:"none"}),
  Plot.axisX({anchor:"bottom",ticks:xTicks,tickFormat:tickFmt,tickSize:19,tickPadding:22,fontSize:50,strokeWidth:4,label:null}),
  Plot.axisY({anchor:"left",ticks:yTicks,tickFormat:tickFmt,tickSize:19,tickPadding:25,fontSize:50,strokeWidth:4,label:null}),
  Plot.frame({stroke:"#000",strokeWidth:5}),
  Plot.text(["AMOC intrinsic-to-total variance ratio"],{frameAnchor:"top",dy:-104,fontSize:97,fill:"#000"}),
  Plot.text(["Latitude"],{frameAnchor:"bottom",dy:176,fontSize:80,fill:"#000"}),
  Plot.text(["Dpeth [km]"],{frameAnchor:"left",dx:-190,rotate:-90,textAnchor:"middle",fontSize:81,fill:"#000"})
]});

// colour bar
const cbar=Plot.plot({...base,marginLeft:2965,marginRight:W-3043,marginTop:FT,marginBottom:H-FB,
  x:{domain:[0,1],axis:null},y:{domain:[0,1],axis:null},marks:[
  Plot.rect(bandMids,{x1:()=>0,x2:()=>1,y1:d=>d-.05,y2:d=>d+.05,fill:d=>d}),
  Plot.axisY({anchor:"right",ticks:cbTicks,tickFormat:d3.format(".1f"),tickSize:19,tickPadding:24,fontSize:50,strokeWidth:4,label:null}),
  Plot.frame({stroke:"#000",strokeWidth:5})
]});

// arrows over everything, in the chart's own coordinates
const pxLat=(FR-FL)/(latDomain[1]-latDomain[0]), pxDepth=(FB-FT)/(depthDomain[1]-depthDomain[0]);
const arrowShape={draw(c,l){const hl=102,hw=33,a=6.5,b=9.5;c.moveTo(-a,0);c.lineTo(-b,-(l-hl));c.lineTo(-hw,-(l-hl));c.lineTo(0,-l);c.lineTo(hw,-(l-hl));c.lineTo(b,-(l-hl));c.lineTo(a,0);c.closePath();}};
const arrowMarks=arrowTips.map(t=>{
  const dx=(t[0]-arrowFrom[0])*pxLat, dy=-(t[1]-arrowFrom[1])*pxDepth;
  return Plot.vector([arrowFrom],{x:d=>d[0],y:d=>d[1],length:Math.hypot(dx,dy),rotate:Math.atan2(dx,-dy)*180/Math.PI,anchor:"start",shape:arrowShape,fill:"#000",stroke:"none"});
});
const over=Plot.plot({...chartBox,marks:[
  ...arrowMarks,
  Plot.text(["Chaos!"],{x:()=>69.27,y:()=>-.39,textAnchor:"start",lineAnchor:"bottom",fontSize:101,fontWeight:"bold",fontFamily:"'Liberation Serif'",fill:"#ff3333"})
]});

const page=document.getElementById("page");
page.append(main,cbar,over);
over.style.pointerEvents="none";

const lab=document.createElement("div");lab.id="cblabel";
lab.innerHTML='<i>σ</i><span class="st"><span>2</span><i>I</i></span> / <i>σ</i><span class="st"><span>2</span><i>T</i></span>';
page.append(lab);

const NS="http://www.w3.org/2000/svg";
const corner=document.createElementNS(NS,"svg");
corner.setAttribute("width",60);corner.setAttribute("height",100);corner.style.cssText="position:absolute;left:0;top:0";
const p=document.createElementNS(NS,"path");
p.setAttribute("d","M0 0L40 0Q17 42 0 86Z");p.setAttribute("fill","#fff");p.setAttribute("stroke","#3a5da8");p.setAttribute("stroke-width","2");
corner.append(p);page.append(corner);
</script></body></html>
